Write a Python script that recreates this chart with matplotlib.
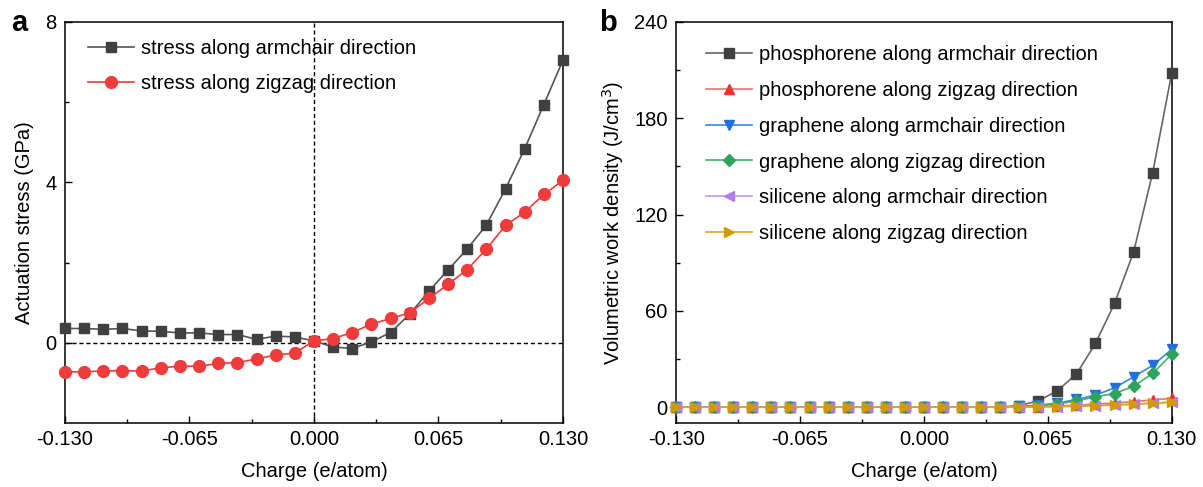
import matplotlib
matplotlib.use('Agg')
import matplotlib.pyplot as plt
from matplotlib.ticker import MultipleLocator, FixedLocator

plt.rcParams['font.family'] = ['Liberation Sans', 'DejaVu Sans']
plt.rcParams['font.size'] = 14.5

# charge (e/atom), step 0.01
charge = [round(-0.13 + 0.01 * i, 2) for i in range(27)]

# panel a: actuation stress (GPa)
stress_arm = [0.36, 0.36, 0.34, 0.36, 0.30, 0.29, 0.25, 0.25, 0.21, 0.21, 0.09, 0.17, 0.15,
              0.05, -0.10, -0.14, 0.03, 0.26, 0.72, 1.29, 1.82, 2.34, 2.94, 3.84, 4.84, 5.94, 7.05]
stress_zig = [-0.72, -0.72, -0.70, -0.69, -0.70, -0.62, -0.58, -0.58, -0.51, -0.49, -0.40, -0.30, -0.25,
              0.05, 0.11, 0.26, 0.47, 0.61, 0.75, 1.11, 1.46, 1.83, 2.34, 2.93, 3.26, 3.70, 4.05]

# panel b: volumetric work density (J/cm3)
zeros = [0.0] * 18
phos_arm = zeros + [1.0, 3.9, 10.2, 20.6, 39.7, 64.6, 96.6, 146.0, 208.0]
phos_zig = zeros + [0.2, 0.4, 0.8, 1.3, 1.9, 2.6, 3.5, 4.5, 5.5]
gra_arm = zeros + [0.5, 1.2, 2.5, 4.8, 7.5, 12.0, 18.9, 26.0, 36.0]
gra_zig = zeros + [0.3, 1.0, 2.0, 3.9, 6.4, 8.5, 13.0, 21.0, 33.0]
sil_arm = zeros + [0.1, 0.2, 0.3, 0.6, 0.9, 1.3, 1.8, 2.4, 3.0]
sil_zig = zeros + [0.1, 0.2, 0.4, 0.6, 1.0, 1.4, 1.9, 2.5, 3.2]

xticks = [-0.13, -0.065, 0.0, 0.065, 0.13]
xticklabels = ['-0.130', '-0.065', '0.000', '0.065', '0.130']

fig = plt.figure(figsize=(12.03, 4.87), dpi=100)
axa = fig.add_axes([0.054, 0.131, 0.414, 0.824])
axb = fig.add_axes([0.562, 0.131, 0.412, 0.824])

def style(ax):
    ax.set_xlim(-0.13, 0.13)
    ax.xaxis.set_major_locator(FixedLocator(xticks))
    ax.set_xticklabels(xticklabels)
    ax.xaxis.set_minor_locator(MultipleLocator(0.0325))
    ax.tick_params(which='both', direction='in', top=False, right=False)
    ax.tick_params(which='major', length=5, width=1, labelsize=14.5)
    ax.tick_params(axis='x', which='major', pad=5)
    ax.tick_params(axis='y', which='major', pad=6)
    ax.tick_params(which='minor', length=3, width=1)
    for s in ax.spines.values():
        s.set_linewidth(1.1)
    ax.set_xlabel('Charge (e/atom)', fontsize=14.5, labelpad=9)

# panel a
axa.axhline(0, color='black', ls='--', lw=1, dashes=(3, 2))
axa.axvline(0, color='black', ls='--', lw=1, dashes=(3, 2))
axa.plot(charge, stress_arm, color='#555555', lw=1.2, marker='s', ms=7.5,
         mfc='#404040', mec='#404040', label='stress along armchair direction', clip_on=False, zorder=3)
axa.plot(charge, stress_zig, color='#ee3b3b', lw=1.2, marker='o', ms=8.5,
         mfc='#ee3b3b', mec='#ee3b3b', label='stress along zigzag direction', clip_on=False, zorder=3)
axa.set_ylim(-2, 8)
axa.yaxis.set_major_locator(FixedLocator([0, 4, 8]))
axa.yaxis.set_minor_locator(FixedLocator([2, 6]))
style(axa)
axa.set_ylabel('Actuation stress (GPa)', fontsize=14.5, labelpad=8)
axa.legend(loc='upper left', bbox_to_anchor=(0.046, 0.957), frameon=False, fontsize=14.5,
           handlelength=2.3, labelspacing=0.8, borderaxespad=0, borderpad=0, handletextpad=0.35)
fig.text(0.016, 0.953, 'a', fontsize=21, fontweight='bold', va='center', ha='center')

# panel b
series = [
    (phos_arm, 's', '#666666', '#404040', 'phosphorene along armchair direction'),
    (phos_zig, '^', '#f27070', '#ee3030', 'phosphorene along zigzag direction'),
    (gra_arm, 'v', '#3a86e0', '#1f6fe0', 'graphene along armchair direction'),
    (gra_zig, 'D', '#40b070', '#2fa35c', 'graphene along zigzag direction'),
    (sil_arm, '<', '#c09af0', '#b07de8', 'silicene along armchair direction'),
    (sil_zig, '>', '#d8a828', '#d39a00', 'silicene along zigzag direction'),
]
for vals, m, lc, mc, lab in series:
    ms = 6.5 if m == 'D' else 7.5
    axb.plot(charge, vals, color=lc, lw=1.2, marker=m, ms=ms, mfc=mc, mec=mc,
             label=lab, clip_on=False, zorder=3)
axb.set_ylim(-10, 240)
axb.yaxis.set_major_locator(FixedLocator([0, 60, 120, 180, 240]))
axb.yaxis.set_minor_locator(FixedLocator([30, 90, 150, 210]))
style(axb)
axb.set_ylabel('Volumetric work density (J/cm$^3$)', fontsize=14.5, labelpad=6)
axb.legend(loc='upper left', bbox_to_anchor=(0.06, 0.943), frameon=False, fontsize=14.5,
           handlelength=2.3, labelspacing=0.84, borderaxespad=0, borderpad=0, handletextpad=0.35)
fig.text(0.505, 0.953, 'b', fontsize=21, fontweight='bold', va='center', ha='center')

fig.savefig('out.png', dpi=100)
